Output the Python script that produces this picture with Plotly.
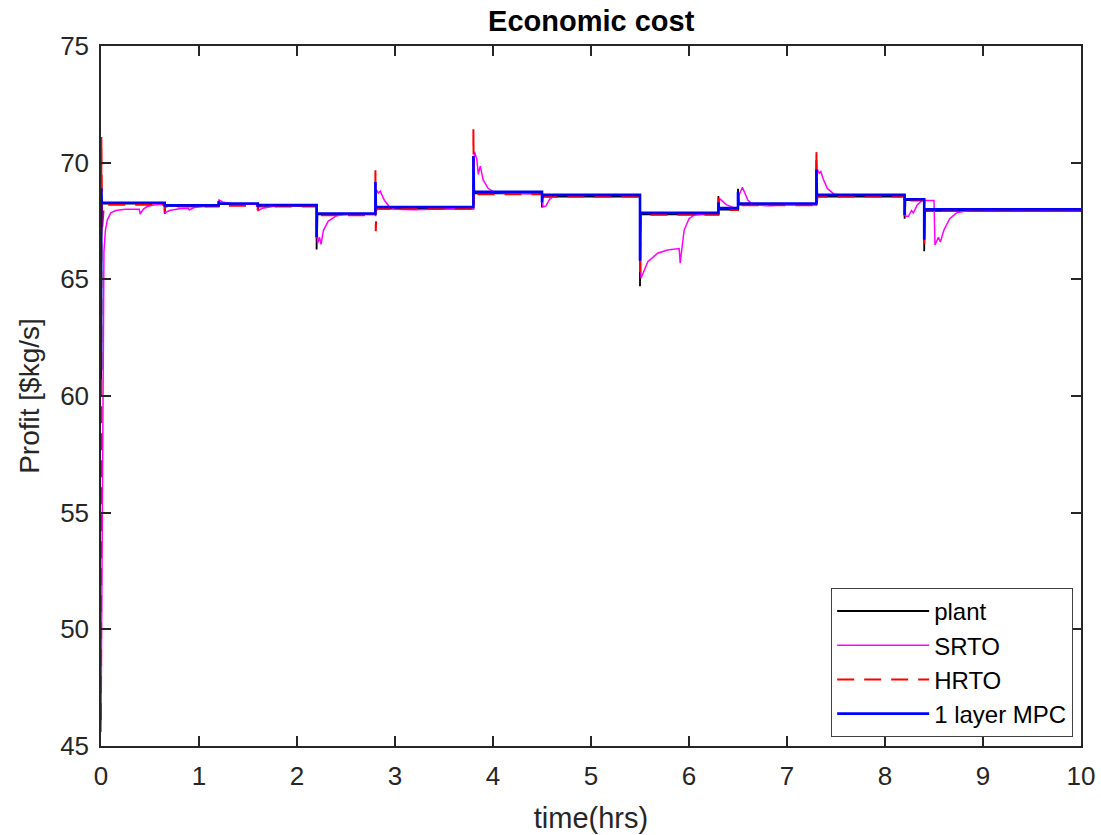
import plotly.graph_objects as go

# Time axis (hours) and profit values for each controller configuration.
plant_t = [0, 0.003, 0.65, 0.65, 0.655, 1.2, 1.2, 1.6, 1.6, 1.605, 2.2, 2.2, 2.205,
           2.8, 2.8, 3.8, 3.8, 4.5, 4.5, 4.505, 5.5, 5.5, 5.505, 6.3, 6.3, 6.305,
           6.5, 6.5, 6.505, 7.3, 7.3, 7.305, 8.2, 8.2, 8.205, 8.4, 8.4, 8.405, 10]
plant_y = [60.2, 68.25, 68.25, 67.8, 68.15, 68.15, 68.22, 68.22, 67.98, 68.15, 68.15, 66.28, 67.78,
           67.78, 68.03, 68.03, 68.68, 68.68, 68.08, 68.55, 68.55, 64.7, 67.78, 67.78, 68.57, 67.99,
           67.99, 68.88, 68.2, 68.2, 70.1, 68.55, 68.55, 67.6, 68.4, 68.4, 66.2, 67.93, 67.93]

srto_t = [0, 0.008, 0.015, 0.022, 0.03, 0.045, 0.065, 0.1, 0.15, 0.25, 0.39, 0.4, 0.43, 0.47,
          0.55, 0.65, 0.652, 0.7, 0.8, 0.89, 0.9, 0.95, 1.05, 1.2, 1.205, 1.25, 1.35, 1.6,
          1.605, 1.65, 1.75, 1.9, 2.2, 2.21, 2.23, 2.245, 2.27, 2.32, 2.4, 2.5, 2.8, 2.81,
          2.83, 2.85, 2.89, 2.94, 3.0, 3.2, 3.5, 3.8, 3.81, 3.835, 3.85, 3.87, 3.9, 3.95,
          4.02, 4.2, 4.5, 4.51, 4.54, 4.58, 4.64, 5.5, 5.51, 5.58, 5.68, 5.78, 5.9, 5.91,
          5.95, 6.0, 6.05, 6.15, 6.3, 6.31, 6.38, 6.5, 6.51, 6.545, 6.56, 6.6, 6.65, 6.8,
          7.0, 7.3, 7.31, 7.33, 7.345, 7.37, 7.41, 7.48, 7.6, 8.2, 8.21, 8.24, 8.27, 8.29,
          8.33, 8.38, 8.5, 8.51, 8.545, 8.565, 8.6, 8.66, 8.73, 8.85, 10]
srto_y = [45.6, 52.0, 60.0, 64.5, 66.2, 67.1, 67.55, 67.85, 67.95, 68.0, 68.0, 67.8, 68.0, 68.12,
          68.2, 68.22, 67.85, 67.95, 68.02, 68.05, 67.97, 68.08, 68.12, 68.14, 68.4, 68.3, 68.24, 68.22,
          67.95, 68.05, 68.12, 68.15, 68.15, 66.55, 66.8, 66.5, 67.1, 67.5, 67.72, 67.78, 67.8, 68.83,
          68.7, 68.78, 68.4, 68.12, 68.0, 67.98, 68.02, 68.05, 70.47, 70.15, 69.5, 69.85, 69.26, 68.9,
          68.72, 68.7, 68.65, 68.1, 68.15, 68.45, 68.6, 68.6, 65.05, 65.76, 66.12, 66.26, 66.32, 65.69,
          67.1, 67.6, 67.75, 67.8, 67.8, 68.47, 68.2, 68.0, 68.6, 68.95, 68.8, 68.4, 68.2, 68.15,
          68.2, 68.2, 69.7, 69.55, 69.62, 69.3, 68.9, 68.65, 68.6, 68.6, 67.7, 67.7, 67.95, 67.85,
          68.2, 68.38, 68.38, 66.47, 66.8, 66.6, 67.1, 67.6, 67.85, 67.95, 67.95]

hrto_t = [0, 0.004, 0.008, 0.012, 0.02, 0.03, 0.65, 0.65, 0.655, 1.2, 1.2, 1.205, 1.6, 1.6, 1.605,
          2.2, 2.2, 2.205, 2.8, 2.8, 2.804, 2.81, 3.8, 3.8, 3.805, 3.81, 4.5, 4.5, 4.505, 5.5, 5.5,
          5.505, 6.3, 6.3, 6.305, 6.5, 6.5, 6.505, 7.3, 7.3, 7.305, 7.31, 8.2, 8.2, 8.205, 8.4, 8.4,
          8.405, 10]
hrto_y = [46.1, 71.1, 69.1, 67.2, 67.6, 68.2, 68.2, 67.9, 68.12, 68.12, 68.2, 68.15, 68.15, 67.95, 68.12,
          68.12, 66.6, 67.75, 67.75, 69.86, 67.06, 68.03, 68.03, 71.47, 68.2, 68.65, 68.65, 68.2, 68.55, 68.55, 65.3,
          67.77, 67.77, 68.5, 67.97, 67.97, 68.4, 68.17, 68.17, 70.6, 68.2, 68.55, 68.55, 67.7, 68.38, 68.38, 66.5,
          67.93, 67.93]

mpc_t = [0, 0.003, 0.008, 0.65, 0.65, 1.2, 1.2, 1.21, 1.6, 1.6, 1.605, 2.2, 2.2, 2.205, 2.8, 2.8,
         2.805, 3.8, 3.8, 3.805, 4.5, 4.5, 4.505, 5.5, 5.5, 5.505, 6.3, 6.3, 6.305, 6.5, 6.5, 6.505,
         7.3, 7.3, 7.305, 8.2, 8.2, 8.205, 8.4, 8.4, 8.405, 10]
mpc_y = [61.1, 68.9, 68.28, 68.28, 68.17, 68.17, 68.36, 68.25, 68.25, 68.1, 68.18, 68.18, 66.8, 67.82, 67.82, 69.17,
         68.1, 68.1, 70.29, 68.75, 68.75, 68.3, 68.62, 68.62, 65.8, 67.85, 67.85, 68.3, 68.05, 68.05, 68.75, 68.25,
         68.25, 69.71, 68.62, 68.62, 67.76, 68.43, 68.43, 66.7, 68.0, 68.0]

x_ticks = list(range(0, 11))
y_ticks = [45, 50, 55, 60, 65, 70, 75]

AX = "#262626"
FONT = "Liberation Sans, Arial, sans-serif"

fig = go.Figure()
fig.add_trace(go.Scatter(x=plant_t, y=plant_y, mode="lines", name="plant",
                         line=dict(color="#000000", width=1.8)))
fig.add_trace(go.Scatter(x=srto_t, y=srto_y, mode="lines", name="SRTO",
                         line=dict(color="#ff00ff", width=1.5)))
fig.add_trace(go.Scatter(x=hrto_t, y=hrto_y, mode="lines", name="HRTO",
                         line=dict(color="#ff0000", width=2, dash="17px,10px")))
fig.add_trace(go.Scatter(x=mpc_t, y=mpc_y, mode="lines", name="1 layer MPC",
                         line=dict(color="#0000ff", width=2.6)))

axis_common = dict(showline=True, linecolor=AX, linewidth=1.5, mirror="ticks",
                   ticks="inside", ticklen=10, tickwidth=1.5, tickcolor=AX,
                   showgrid=False, zeroline=False, automargin=False,
                   tickfont=dict(family=FONT, size=26, color=AX))

fig.update_xaxes(range=[0, 10], tickvals=x_ticks, ticklabelstandoff=6,
                 title=dict(text="time(hrs)", font=dict(family=FONT, size=29, color=AX), standoff=18),
                 **axis_common)
fig.update_yaxes(range=[45, 75], tickvals=y_ticks, ticklabelstandoff=5,
                 title=dict(text="Profit [$kg/s]", font=dict(family=FONT, size=28, color=AX), standoff=12),
                 **axis_common)

fig.update_layout(
    width=1101, height=835,
    margin=dict(l=101, r=20, t=46, b=89, autoexpand=False),
    paper_bgcolor="white", plot_bgcolor="white",
    title=dict(text="<b>Economic cost</b>", x=0.537, xanchor="center",
               y=0.975, yanchor="middle", yref="container",
               font=dict(family=FONT, size=29, color="#000000")),
    showlegend=True,
    legend=dict(x=0.992, y=0.013, xanchor="right", yanchor="bottom",
                bgcolor="white", bordercolor="#404040", borderwidth=1,
                font=dict(family=FONT, size=24, color="#000000"),
                itemwidth=92, tracegroupgap=0),
)

fig.write_html("out.html")
